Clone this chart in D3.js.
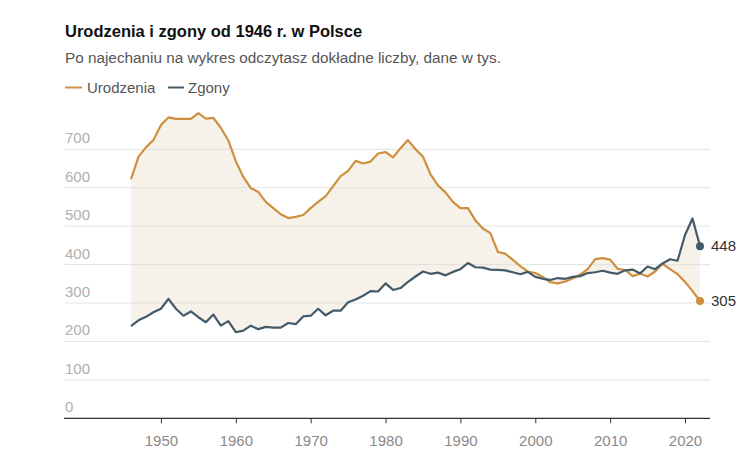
<!DOCTYPE html>
<html>
<head>
<meta charset="utf-8">
<script src="https://cdn.jsdelivr.net/npm/d3@7"></script>
<style>
  html, body { margin: 0; padding: 0; background: #fff; }
  svg { display: block; font-family: "Liberation Sans", Arial, sans-serif; }
</style>
</head>
<body>
<svg id="chart" width="751" height="459"></svg>
<script>
const years = d3.range(1946, 2023);
const births = [622, 681, 705, 724, 763, 783, 779, 779, 779, 794, 780, 782, 756, 723, 669, 628, 599, 589, 563, 547,
  531, 521, 524, 529, 547, 563, 578, 604, 630, 644, 670, 663, 668, 689, 693, 679, 703, 724, 700, 681,
  635, 606, 588, 563, 547, 547, 515, 494, 482, 433, 428, 412, 396, 382, 378, 368, 354, 351, 356, 364,
  374, 388, 414, 417, 413, 389, 386, 370, 376, 369, 382, 402, 388, 375, 355, 331, 305];
const deaths = [240, 255, 264, 276, 285, 311, 285, 267, 278, 263, 250, 270, 241, 253, 224, 228, 241, 232, 238, 236,
  236, 248, 245, 265, 267, 285, 268, 280, 280, 302, 309, 319, 331, 330, 351, 334, 339, 355, 369, 382,
  376, 379, 372, 381, 388, 404, 393, 392, 387, 386, 385, 380, 375, 381, 368, 363, 360, 365, 363, 368,
  370, 378, 380, 384, 379, 376, 385, 387, 377, 395, 388, 403, 414, 410, 477, 520, 448];
const yTicks = [0, 100, 200, 300, 400, 500, 600, 700];
const xTicks = [1950, 1960, 1970, 1980, 1990, 2000, 2010, 2020];
const seriesNames = ["Urodzenia", "Zgony"];
const titleText = "Urodzenia i zgony od 1946 r. w Polsce";
const subtitleText = "Po najechaniu na wykres odczytasz dokładne liczby, dane w tys.";

const colBirths = "#cf8f3f";
const colDeaths = "#445a69";
const svg = d3.select("#chart");

const left = 65, right = 710;
const x = d3.scaleLinear().domain([1946, 2022]).range([131, 700]);
const y = d3.scaleLinear().domain([0, 700]).range([418.3, 149.3]);

const data = years.map((yr, i) => ({ yr, b: births[i], d: deaths[i] }));

// title
svg.append("text").attr("x", left).attr("y", 37)
  .attr("font-size", 16.5).attr("font-weight", "bold").attr("fill", "#111").text(titleText);
svg.append("text").attr("x", left).attr("y", 63)
  .attr("font-size", 15.3).attr("fill", "#555").text(subtitleText);

// legend
const leg = svg.append("g");
leg.append("line").attr("x1", 65).attr("x2", 82).attr("y1", 87.5).attr("y2", 87.5)
  .attr("stroke", colBirths).attr("stroke-width", 2);
leg.append("text").attr("x", 87).attr("y", 93).attr("font-size", 15).attr("fill", "#555").text(seriesNames[0]);
leg.append("line").attr("x1", 168).attr("x2", 184).attr("y1", 87.5).attr("y2", 87.5)
  .attr("stroke", colDeaths).attr("stroke-width", 2);
leg.append("text").attr("x", 188).attr("y", 93).attr("font-size", 15).attr("fill", "#555").text(seriesNames[1]);

// fill between
const area = d3.area().x(d => x(d.yr)).y0(d => y(d.d)).y1(d => y(d.b));
svg.append("path").datum(data).attr("d", area).attr("fill", "#f6f2ea");

// gridlines & y labels
const grid = svg.append("g");
yTicks.forEach(t => {
  if (t > 0) {
    grid.append("line").attr("x1", left).attr("x2", right).attr("y1", y(t)).attr("y2", y(t))
      .attr("stroke", "#dcdcdc").attr("stroke-opacity", 0.8).attr("stroke-width", 1);
  }
  grid.append("text").attr("x", left).attr("y", y(t) - 6).attr("font-size", 15)
    .attr("fill", "#b0b0b0").text(t);
});

// x axis
const xAxis = d3.axisBottom(x).tickValues(xTicks).tickFormat(d3.format("d")).tickSize(5).tickPadding(12);
const gx = svg.append("g").attr("transform", `translate(0,${y(0)})`).call(xAxis);
gx.select(".domain").remove();
gx.selectAll(".tick line").attr("stroke", "#333");
gx.selectAll(".tick text").attr("fill", "#8a8a8a").attr("font-size", 15)
  .attr("font-family", "'Liberation Sans', Arial, sans-serif");
svg.append("line").attr("x1", 64).attr("x2", right).attr("y1", y(0)).attr("y2", y(0))
  .attr("stroke", "#333").attr("stroke-width", 1.2);

// lines
const lineB = d3.line().x(d => x(d.yr)).y(d => y(d.b));
const lineD = d3.line().x(d => x(d.yr)).y(d => y(d.d));
svg.append("path").datum(data).attr("d", lineB).attr("fill", "none")
  .attr("stroke", colBirths).attr("stroke-width", 2.2).attr("stroke-linejoin", "round");
svg.append("path").datum(data).attr("d", lineD).attr("fill", "none")
  .attr("stroke", colDeaths).attr("stroke-width", 2.2).attr("stroke-linejoin", "round");

// end dots & labels
const last = data[data.length - 1];
[[last.b, colBirths], [last.d, colDeaths]].forEach(([v, c]) => {
  svg.append("circle").attr("cx", x(last.yr)).attr("cy", y(v)).attr("r", 4).attr("fill", c);
  svg.append("text").attr("x", x(last.yr) + 11).attr("y", y(v)).attr("dy", "0.35em")
    .attr("font-size", 15).attr("fill", "#333").text(v);
});
</script>
</body>
</html>
